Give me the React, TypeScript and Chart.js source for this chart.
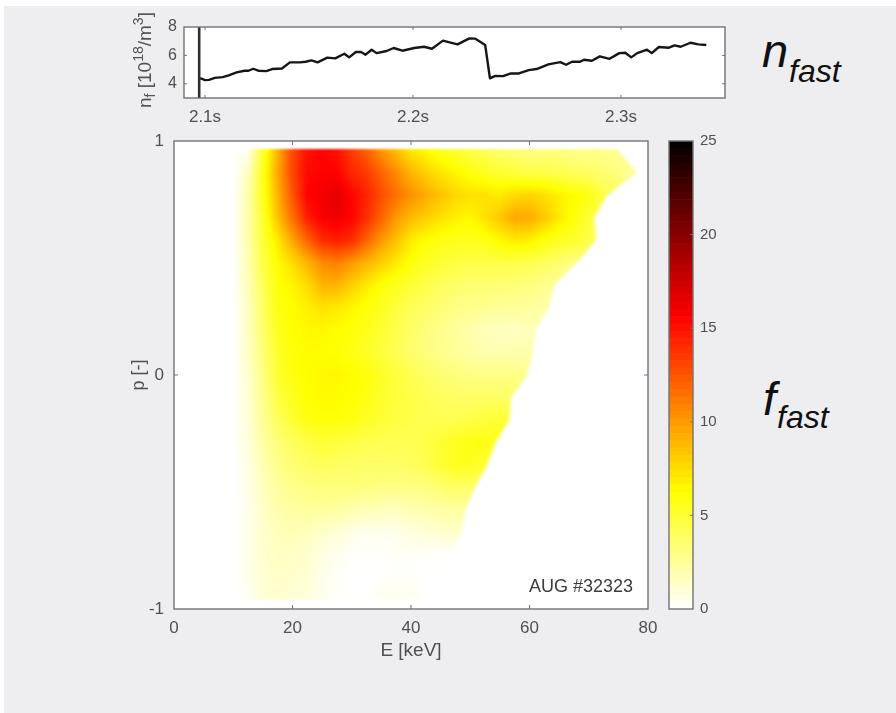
import React, { useEffect, useRef } from "react";
import { Chart, registerables } from "chart.js";

Chart.register(...registerables);

// ---------- data ----------
const densityTimes = [
  2.0977, 2.1, 2.1019, 2.1047, 2.1085, 2.1114, 2.1152, 2.119, 2.1209, 2.1232, 2.1256, 2.1294, 2.1323, 2.137, 2.1408,
  2.1455, 2.1484, 2.1512, 2.1541, 2.1588, 2.1626, 2.167, 2.1693, 2.1725, 2.175, 2.1772, 2.1801, 2.1825, 2.1873,
  2.1907, 2.1949, 2.2006, 2.2053, 2.2091, 2.2144, 2.2176, 2.2214, 2.2271, 2.23, 2.2347, 2.237, 2.2395, 2.2433,
  2.2471, 2.2509, 2.2556, 2.2594, 2.2651, 2.2708, 2.2736, 2.2765, 2.2803, 2.2822, 2.286, 2.2898, 2.2945, 2.2992,
  2.3021, 2.3049, 2.3078, 2.3125, 2.3148, 2.3182, 2.323, 2.3258, 2.3287, 2.3334, 2.3372, 2.341,
];
const densityValues = [
  4.4, 4.26, 4.28, 4.42, 4.47, 4.59, 4.8, 4.92, 4.92, 5.06, 4.92, 4.89, 5.04, 5.08, 5.51, 5.51, 5.55, 5.65, 5.51,
  5.84, 5.79, 6.12, 5.86, 6.24, 6.24, 6.05, 6.4, 6.16, 6.31, 6.52, 6.33, 6.52, 6.61, 6.47, 7.04, 6.92, 6.78, 7.2,
  7.18, 6.73, 4.38, 4.56, 4.54, 4.73, 4.73, 4.96, 5.04, 5.37, 5.53, 5.34, 5.55, 5.55, 5.69, 5.62, 5.93, 5.76, 6.16,
  6.19, 5.86, 6.16, 6.4, 6.16, 6.59, 6.54, 6.71, 6.61, 6.89, 6.78, 6.73,
];
const markerTime = 2.0972;
const timeTicks = [2.1, 2.2, 2.3];
const densityTicks = [4, 6, 8];
const energyTicks = [0, 20, 40, 60, 80];
const pitchTicks = [-1, 0, 1];
const colorbarTicks = [0, 5, 10, 15, 20, 25];

// f_fast grid: energy columns and pitch rows (top row first)
const energyGrid = [10, 12.5, 15, 17.5, 20, 22.5, 25, 27.5, 30, 32.5, 35, 37.5, 40, 42.5, 45, 47.5, 50, 52.5, 55, 57.5, 60, 62.5, 65, 67.5, 70, 72.5, 75, 77.5, 80];
const pitchGrid = [0.965, 0.864, 0.768, 0.672, 0.576, 0.48, 0.384, 0.288, 0.192, 0.096, 0, -0.096, -0.192, -0.288, -0.384, -0.48, -0.576, -0.672, -0.768, -0.864, -0.96];
const supportEdge = [75.2, 78.6, 73.5, 71.3, 71.6, 68.5, 64.6, 63.7, 61.5, 61, 60, 57.3, 57, 54.7, 53.3, 51.3, 49.6, 49, 47, 45, 43];
const fastIonGrid = [
  [0, 0.3, 5, 9, 13, 15, 15.5, 15, 13.5, 12, 10, 8.5, 7, 6.3, 5.5, 5, 4.5, 4, 3.5, 3.2, 3, 3, 3, 2.8, 2.8, 2.7, 2.5, 2.5],
  [0, 1.5, 5.5, 9.5, 13, 15.3, 15.6, 15.6, 14.2, 13.5, 12, 10.5, 9, 8, 7.2, 6.6, 6, 5.5, 5, 4.8, 4.5, 4.5, 4.3, 4, 3.8, 3.5, 3.2, 2.5, 2.2],
  [0, 2, 5.5, 9, 12.5, 15.5, 16, 16.5, 15.5, 14.3, 12.8, 11.5, 10.3, 9.3, 8.5, 7.7, 7.3, 7.3, 7, 7.6, 7.8, 7.4, 6.8, 6.3, 5.8, 4.5, 4],
  [0, 2, 5, 8.5, 11.5, 14.5, 15.8, 16.2, 15.5, 14, 12, 10, 8.8, 8, 7.3, 6.8, 6.5, 7.3, 8.3, 9.5, 9.3, 8.3, 7, 6, 5, 4.5],
  [0, 2, 4.8, 7, 9.5, 12, 14, 14.5, 14, 12, 10, 8.5, 7, 6.3, 5.8, 5.6, 5.6, 5.8, 6.5, 7, 6.8, 6, 5.5, 5.2, 4.5, 4.2],
  [0, 1.8, 4.5, 6.3, 7.5, 9, 10.5, 11, 10, 9, 8, 7, 6, 5.4, 5, 4.7, 4.5, 4.5, 4.5, 4.5, 4.3, 4, 3.6, 3, 3],
  [0, 1.7, 4, 6, 6.6, 7.5, 9, 9, 8, 7, 6, 5.5, 5, 4.5, 4, 3.7, 3.5, 3.5, 3.4, 3.3, 3.2, 2.8, 2.6],
  [0, 1.5, 3.8, 5.8, 6.3, 6.8, 7.3, 7, 6.5, 6, 5.5, 4.8, 4.2, 3.8, 3.4, 3, 2.8, 2.7, 2.5, 2.5, 2.4, 2.2, 2],
  [0, 1.5, 3.6, 5.5, 6.2, 6.5, 6.5, 6.3, 6, 5.6, 5, 4.4, 3.8, 3.2, 2.8, 2.4, 2, 1.7, 1.5, 1.5, 1.7, 1.7],
  [0, 1.4, 3.3, 5.2, 6, 6.3, 6.3, 6.2, 5.8, 5.3, 4.8, 4.2, 3.6, 3.2, 2.8, 2.5, 2.2, 2, 2, 2, 2, 2],
  [0, 1.2, 3, 5, 6, 6.3, 6.5, 6.5, 6.3, 6, 5.3, 4.8, 4.3, 3.8, 3.4, 3.2, 3, 3, 3, 3, 3, 2.5],
  [0, 1.1, 2.8, 4.5, 5.5, 6.2, 6.4, 6.4, 6.2, 5.8, 5.2, 4.8, 4.5, 4.2, 4, 3.8, 3.8, 3.8, 3.8, 3.8, 3.5],
  [0, 1, 2.5, 4, 5, 5.8, 6, 6, 5.8, 5.3, 5, 4.6, 4.5, 4.3, 4.2, 4.3, 4.5, 4.8, 5, 5, 4.5],
  [0, 0.8, 2.2, 3.3, 4, 4.5, 5, 4.8, 4.6, 4.3, 4.2, 4.2, 4.2, 4.5, 5, 5.5, 5.8, 5.8, 5.5, 5],
  [0, 0.7, 1.8, 2.8, 3.4, 3.8, 4, 3.9, 3.8, 3.7, 3.7, 3.8, 3.9, 4.3, 5, 5.5, 5.5, 5, 4.5],
  [0, 0.6, 1.5, 2.4, 2.8, 3, 3.2, 3.2, 3.2, 3.1, 3, 3, 3, 3.2, 3.5, 3.8, 3.7, 3.5],
  [0, 0.5, 1.3, 2, 2.2, 2.4, 2.4, 2.3, 2, 1.8, 1.7, 1.6, 1.8, 2, 2.2, 2.3, 2.2, 2],
  [0, 0.5, 1.2, 1.7, 1.8, 1.6, 1.3, 1, 0.6, 0.4, 0.4, 0.5, 0.8, 1, 1.2, 1.3, 1.3, 1],
  [0, 0.5, 1.1, 1.5, 1.4, 1.2, 0.7, 0.4, 0.1, 0.1, 0.1, 0.2, 0.2, 0.1, 0.05],
  [0, 0.5, 1.1, 1.3, 1.2, 1, 0.5, 0.2, 0, 0, 0, 0.1, 0.1],
  [0, 0.2, 1, 1.2, 1, 1, 0.4, 0.1, 0, 0.1, 0.4, 0.5, 0.4],
];

// colormap stops: value on the colorbar, RGB
const colorStops: [number, number, number, number][] = [
  [0, 255, 255, 255],
  [6.25, 255, 255, 0],
  [15.6, 255, 0, 0],
  [25, 0, 0, 0],
];

const FONT = '"Liberation Sans", Arial, sans-serif';
const INK = "#505053";
const FRAME = "#737376";

function colorAt(v: number): [number, number, number] {
  const t = Math.max(0, Math.min(25, v));
  for (let i = 1; i < colorStops.length; i++) {
    const a = colorStops[i - 1];
    const b = colorStops[i];
    if (t <= b[0]) {
      const f = (t - a[0]) / (b[0] - a[0]);
      return [a[1] + (b[1] - a[1]) * f, a[2] + (b[2] - a[2]) * f, a[3] + (b[3] - a[3]) * f];
    }
  }
  return [0, 0, 0];
}

function sampleGrid(E: number, p: number): number {
  const n = pitchGrid.length;
  if (p > pitchGrid[0] || p < pitchGrid[n - 1]) return 0;
  if (E < energyGrid[0] || E > energyGrid[energyGrid.length - 1]) return 0;
  let r0 = 0;
  while (r0 < n - 2 && p < pitchGrid[r0 + 1]) r0++;
  const wr = (pitchGrid[r0] - p) / (pitchGrid[r0] - pitchGrid[r0 + 1]);
  const fc = (E - energyGrid[0]) / (energyGrid[1] - energyGrid[0]);
  const c0 = Math.min(energyGrid.length - 2, Math.floor(fc));
  const wc = fc - c0;
  const at = (r: number, c: number) => fastIonGrid[r][c] ?? 0;
  const v =
    (1 - wr) * ((1 - wc) * at(r0, c0) + wc * at(r0, c0 + 1)) +
    wr * ((1 - wc) * at(r0 + 1, c0) + wc * at(r0 + 1, c0 + 1));
  const edge = supportEdge[r0] * (1 - wr) + supportEdge[r0 + 1] * wr;
  const mask = Math.max(0, Math.min(1, (edge - E) / 0.8));
  return v * mask;
}

const heatmapPlugin = {
  id: "heatmap",
  beforeDatasetsDraw(chart: any) {
    const { ctx, chartArea: a, scales } = chart;
    const w = Math.round(a.right - a.left);
    const h = Math.round(a.bottom - a.top);
    const off = document.createElement("canvas");
    off.width = w;
    off.height = h;
    const oc = off.getContext("2d")!;
    const img = oc.createImageData(w, h);
    for (let j = 0; j < h; j++) {
      const p = scales.y.getValueForPixel(a.top + j + 0.5);
      for (let i = 0; i < w; i++) {
        const E = scales.x.getValueForPixel(a.left + i + 0.5);
        const c = colorAt(sampleGrid(E, p));
        const k = (j * w + i) * 4;
        img.data[k] = c[0];
        img.data[k + 1] = c[1];
        img.data[k + 2] = c[2];
        img.data[k + 3] = 255;
      }
    }
    oc.putImageData(img, 0, 0);
    ctx.save();
    ctx.beginPath();
    ctx.rect(a.left, a.top, a.right - a.left, a.bottom - a.top);
    ctx.clip();
    ctx.filter = "blur(1px)";
    ctx.drawImage(off, a.left, a.top);
    ctx.restore();
  },
};

function framePlugin(tick: number, sides: string) {
  return {
    id: "frame",
    beforeDraw(chart: any) {
      const { ctx, chartArea: a } = chart;
      ctx.save();
      ctx.fillStyle = "#ffffff";
      ctx.fillRect(a.left, a.top, a.right - a.left, a.bottom - a.top);
      ctx.restore();
    },
    afterDatasetsDraw(chart: any) {
      const { ctx, chartArea: a, scales } = chart;
      ctx.save();
      ctx.strokeStyle = FRAME;
      ctx.lineWidth = 1.4;
      ctx.strokeRect(a.left, a.top, a.right - a.left, a.bottom - a.top);
      ctx.lineWidth = 1;
      ctx.beginPath();
      if (sides.includes("x")) {
        for (const t of scales.x.ticks) {
          const x = scales.x.getPixelForValue(t.value);
          if (x <= a.left + 1 || x >= a.right - 1) continue;
          ctx.moveTo(x, a.top);
          ctx.lineTo(x, a.top + tick);
          ctx.moveTo(x, a.bottom);
          ctx.lineTo(x, a.bottom - tick);
        }
      }
      if (sides.includes("y")) {
        for (const t of scales.y.ticks) {
          const y = scales.y.getPixelForValue(t.value);
          if (y <= a.top + 1 || y >= a.bottom - 1) continue;
          ctx.moveTo(a.left, y);
          ctx.lineTo(a.left + tick, y);
          ctx.moveTo(a.right, y);
          ctx.lineTo(a.right - tick, y);
        }
      }
      if (sides.includes("c")) {
        for (const t of scales.y.ticks) {
          const y = scales.y.getPixelForValue(t.value);
          if (y <= a.top + 1 || y >= a.bottom - 1) continue;
          ctx.moveTo(a.right, y);
          ctx.lineTo(a.right - tick, y);
        }
      }
      ctx.stroke();
      ctx.restore();
    },
  };
}

function axis(values: number[], opts: any, size: number, fmt?: (v: number) => string) {
  const horizontal = opts.horizontal;
  return {
    type: "linear",
    position: opts.position,
    min: opts.min,
    max: opts.max,
    afterBuildTicks(scale: any) {
      scale.ticks = values.map((v) => ({ value: v }));
    },
    afterFit(scale: any) {
      if (horizontal) scale.height = size;
      else scale.width = size;
      scale.paddingLeft = 0;
      scale.paddingRight = 0;
      scale.paddingTop = 0;
      scale.paddingBottom = 0;
    },
    border: { display: false },
    grid: { display: false, drawTicks: false },
    ticks: {
      autoSkip: false,
      maxRotation: 0,
      padding: opts.padding,
      color: INK,
      font: { family: FONT, size: opts.fontSize },
      callback: (v: any) => (fmt ? fmt(Number(v)) : String(v)),
    },
    title: opts.title
      ? {
          display: true,
          text: opts.title,
          color: INK,
          font: { family: FONT, size: opts.titleSize },
          padding: opts.titlePadding,
        }
      : { display: false },
  };
}

function useChart(build: (c: HTMLCanvasElement) => Chart) {
  const ref = useRef<HTMLCanvasElement | null>(null);
  useEffect(() => {
    const chart = build(ref.current!);
    return () => chart.destroy();
  }, []);
  return ref;
}

const abs = (left: number, top: number, width: number, height: number): React.CSSProperties => ({
  position: "absolute",
  left,
  top,
  width,
  height,
});

const smallMark = (offset: number): React.CSSProperties => ({
  fontSize: 14,
  lineHeight: 0,
  verticalAlign: "baseline",
  position: "relative",
  top: offset,
});

const bigLetter: React.CSSProperties = { position: "absolute", fontStyle: "italic", fontSize: 47, lineHeight: "60px", color: "#111", whiteSpace: "nowrap" };
const smallWord: React.CSSProperties = { position: "absolute", fontStyle: "italic", fontSize: 32, lineHeight: "40px", color: "#111", whiteSpace: "nowrap" };

export default function App() {
  const densityRef = useChart(
    (canvas) =>
      new Chart(canvas, {
        type: "line",
        data: {
          datasets: [
            {
              label: "n_f",
              data: densityTimes.map((t, i) => ({ x: t, y: densityValues[i] })),
              borderColor: "#161616",
              borderWidth: 2.4,
              borderJoinStyle: "round",
              pointRadius: 0,
              tension: 0,
            },
            {
              label: "time marker",
              data: [
                { x: markerTime, y: 3 },
                { x: markerTime, y: 8 },
              ],
              borderColor: "#2e2e30",
              borderWidth: 2.6,
              pointRadius: 0,
            },
          ],
        },
        options: {
          responsive: false,
          animation: false,
          layout: { padding: { top: 20, right: 25, left: 0, bottom: 0 } },
          plugins: { legend: { display: false }, tooltip: { enabled: false } },
          scales: {
            x: axis(timeTicks, { horizontal: true, position: "bottom", min: 2.0899, max: 2.35, padding: 9, fontSize: 17 }, 32, (v) => v.toFixed(1) + "s"),
            y: axis(densityTicks, { position: "left", min: 3, max: 8, padding: 7, fontSize: 16 }, 54),
          },
        } as any,
        plugins: [framePlugin(3, "xy")],
      })
  );

  const heatRef = useChart(
    (canvas) =>
      new Chart(canvas, {
        type: "scatter",
        data: { datasets: [{ label: "f_fast", data: [], pointRadius: 0 }] },
        options: {
          responsive: false,
          animation: false,
          layout: { padding: { top: 16, right: 12, left: 0, bottom: 0 } },
          plugins: { legend: { display: false }, tooltip: { enabled: false } },
          scales: {
            x: axis(energyTicks, { horizontal: true, position: "bottom", min: 0, max: 80, padding: 9, fontSize: 17, title: "E [keV]", titleSize: 19, titlePadding: { top: 0, bottom: 3 } }, 56),
            y: axis(pitchTicks, { position: "left", min: -1, max: 1, padding: 10, fontSize: 17, title: "p [-]", titleSize: 18, titlePadding: { top: 8, bottom: 0 } }, 54),
          },
        } as any,
        plugins: [heatmapPlugin, framePlugin(4, "xy")],
      })
  );

  const barRef = useChart((canvas) => {
    const levels = 64;
    const step = 25 / levels;
    const datasets = Array.from({ length: levels }, (_, i) => {
      const c = colorAt((i + 0.5) * step);
      return {
        label: "level " + i,
        data: [step],
        backgroundColor: `rgb(${c[0]},${c[1]},${c[2]})`,
        borderWidth: 0,
        stack: "bar",
        barPercentage: 1,
        categoryPercentage: 1,
      };
    });
    return new Chart(canvas, {
      type: "bar",
      data: { labels: ["f"], datasets },
      options: {
        responsive: false,
        animation: false,
        layout: { padding: { top: 16, left: 5, right: 0, bottom: 16 } },
        plugins: { legend: { display: false }, tooltip: { enabled: false } },
        scales: {
          x: { display: false, stacked: true },
          y: { ...axis(colorbarTicks, { position: "right", min: 0, max: 25, padding: 7, fontSize: 15 }, 41), stacked: true },
        },
      } as any,
      plugins: [framePlugin(3, "c")],
    });
  });

  return (
    <div style={{ position: "fixed", left: 0, top: 0, width: 896, height: 713, background: "#ffffff", overflow: "hidden", fontFamily: FONT }}>
      <div style={{ ...abs(4, 6, 892, 707), background: "#eeedef" }} />
      <canvas ref={densityRef} width={620} height={123} style={{ ...abs(130, 7, 620, 123) }} />
      <canvas ref={heatRef} width={540} height={540} style={{ ...abs(120, 125, 540, 540) }} />
      <canvas ref={barRef} width={70} height={500} style={{ ...abs(664, 125, 70, 500) }} />

      <div style={{ position: "absolute", left: 157, top: 108, transformOrigin: "0 0", transform: "rotate(-90deg) translateY(-100%)", whiteSpace: "nowrap", color: INK, fontSize: 19, lineHeight: "24px" }}>
        n<sub style={smallMark(4)}>f</sub> [10<sup style={smallMark(-8)}>18</sup>/m<sup style={smallMark(-8)}>3</sup>]
      </div>

      <div style={{ position: "absolute", left: 529, top: 575, color: "#3c3c3e", fontSize: 18, lineHeight: "22px", whiteSpace: "nowrap" }}>AUG #32323</div>

      <div style={{ ...bigLetter, left: 762, top: 21 }}>n</div>
      <div style={{ ...smallWord, left: 789, top: 51 }}>fast</div>
      <div style={{ ...bigLetter, left: 763, top: 369 }}>f</div>
      <div style={{ ...smallWord, left: 777, top: 397 }}>fast</div>
    </div>
  );
}
